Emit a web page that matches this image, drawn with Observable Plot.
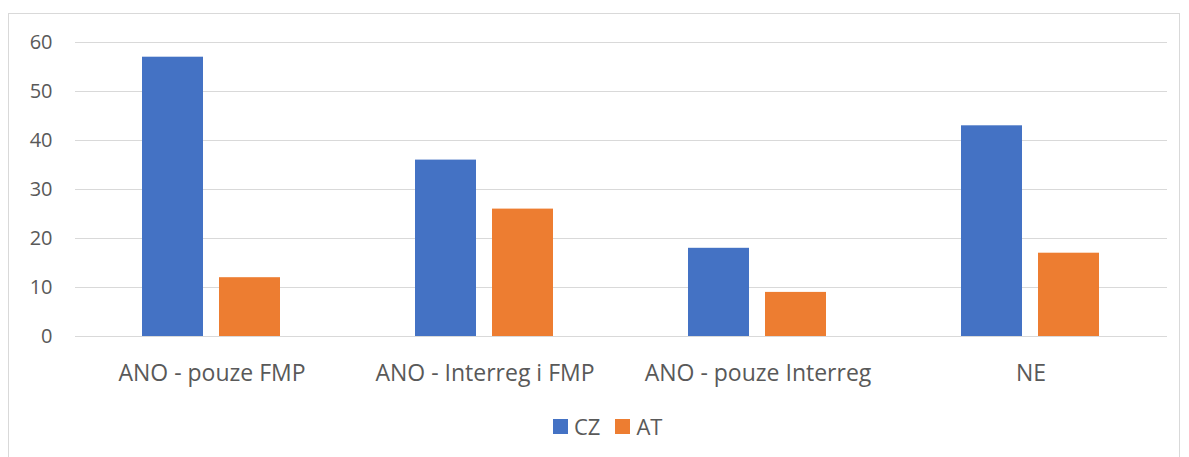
<!DOCTYPE html>
<html><head><meta charset="utf-8">
<script src="https://cdn.jsdelivr.net/npm/d3@7"></script>
<script src="https://cdn.jsdelivr.net/npm/@observablehq/plot@0.6"></script>
<style>
body{margin:0;background:#fff;font-family:"Open Sans",sans-serif;}
#wrap{position:relative;width:1189px;height:457px;overflow:hidden;}
#frame{position:absolute;left:8px;top:13px;width:1172px;height:460px;border:1px solid #d9d9d9;box-sizing:border-box;}
#chart{position:absolute;left:0;top:0;}
#legend{position:absolute;left:553px;top:411px;display:flex;align-items:center;font-size:22px;color:#595959;}
#legend span.sw{display:inline-block;width:15px;height:15px;margin-right:6px;}
#legend span.lb{margin-right:15px;}
</style></head>
<body><div id="wrap"><div id="frame"></div><div id="chart"></div><div id="legend"></div></div>
<script>
const categories = ["ANO - pouze FMP", "ANO - Interreg i FMP", "ANO - pouze Interreg", "NE"];
const series = ["CZ", "AT"];
const czValues = [57, 36, 18, 43];
const atValues = [12, 26, 9, 17];
const colors = ["#4472C4", "#ED7D31"];
const yTicks = [0, 10, 20, 30, 40, 50, 60];

const data = [];
categories.forEach((c, i) => {
  data.push({category: c, series: "CZ", value: czValues[i]});
  data.push({category: c, series: "AT", value: atValues[i]});
});

const chart = Plot.plot({
  width: 1189,
  height: 400,
  marginTop: 42,
  marginBottom: 64,
  marginLeft: 73,
  marginRight: 21,
  style: {fontFamily: "'Open Sans', sans-serif", color: "#595959", background: "transparent"},
  fx: {domain: categories, padding: 0, label: null},
  x: {domain: series, paddingInner: 0.205, paddingOuter: 0.87, axis: null},
  y: {domain: [0, 60], label: null},
  color: {domain: series, range: colors},
  marks: [
    Plot.ruleY(yTicks, {stroke: "#d9d9d9", strokeWidth: 1, strokeOpacity: 1}),
    Plot.barY(data, {fx: "category", x: "series", y: "value", fill: "series"}),
    Plot.axisY(yTicks, {tickSize: 0, tickPadding: 23, fontSize: 20, fill: "#595959", label: null}),
    Plot.axisFx({anchor: "bottom", tickSize: 0, tickPadding: 28, fontSize: 23, fill: "#595959", label: null})
  ]
});
const yLabelSet = new Set(yTicks.map(String));
chart.querySelectorAll("text").forEach(t => {
  if (yLabelSet.has(t.textContent.trim())) {
    t.setAttribute("font-size", "20");
    t.style.fontSize = "20px";
  }
});
document.getElementById("chart").appendChild(chart);

const legend = document.getElementById("legend");
series.forEach((s, i) => {
  const sw = document.createElement("span"); sw.className = "sw"; sw.style.background = colors[i];
  const lb = document.createElement("span"); lb.className = "lb"; lb.textContent = s;
  legend.appendChild(sw); legend.appendChild(lb);
});
</script></body></html>
